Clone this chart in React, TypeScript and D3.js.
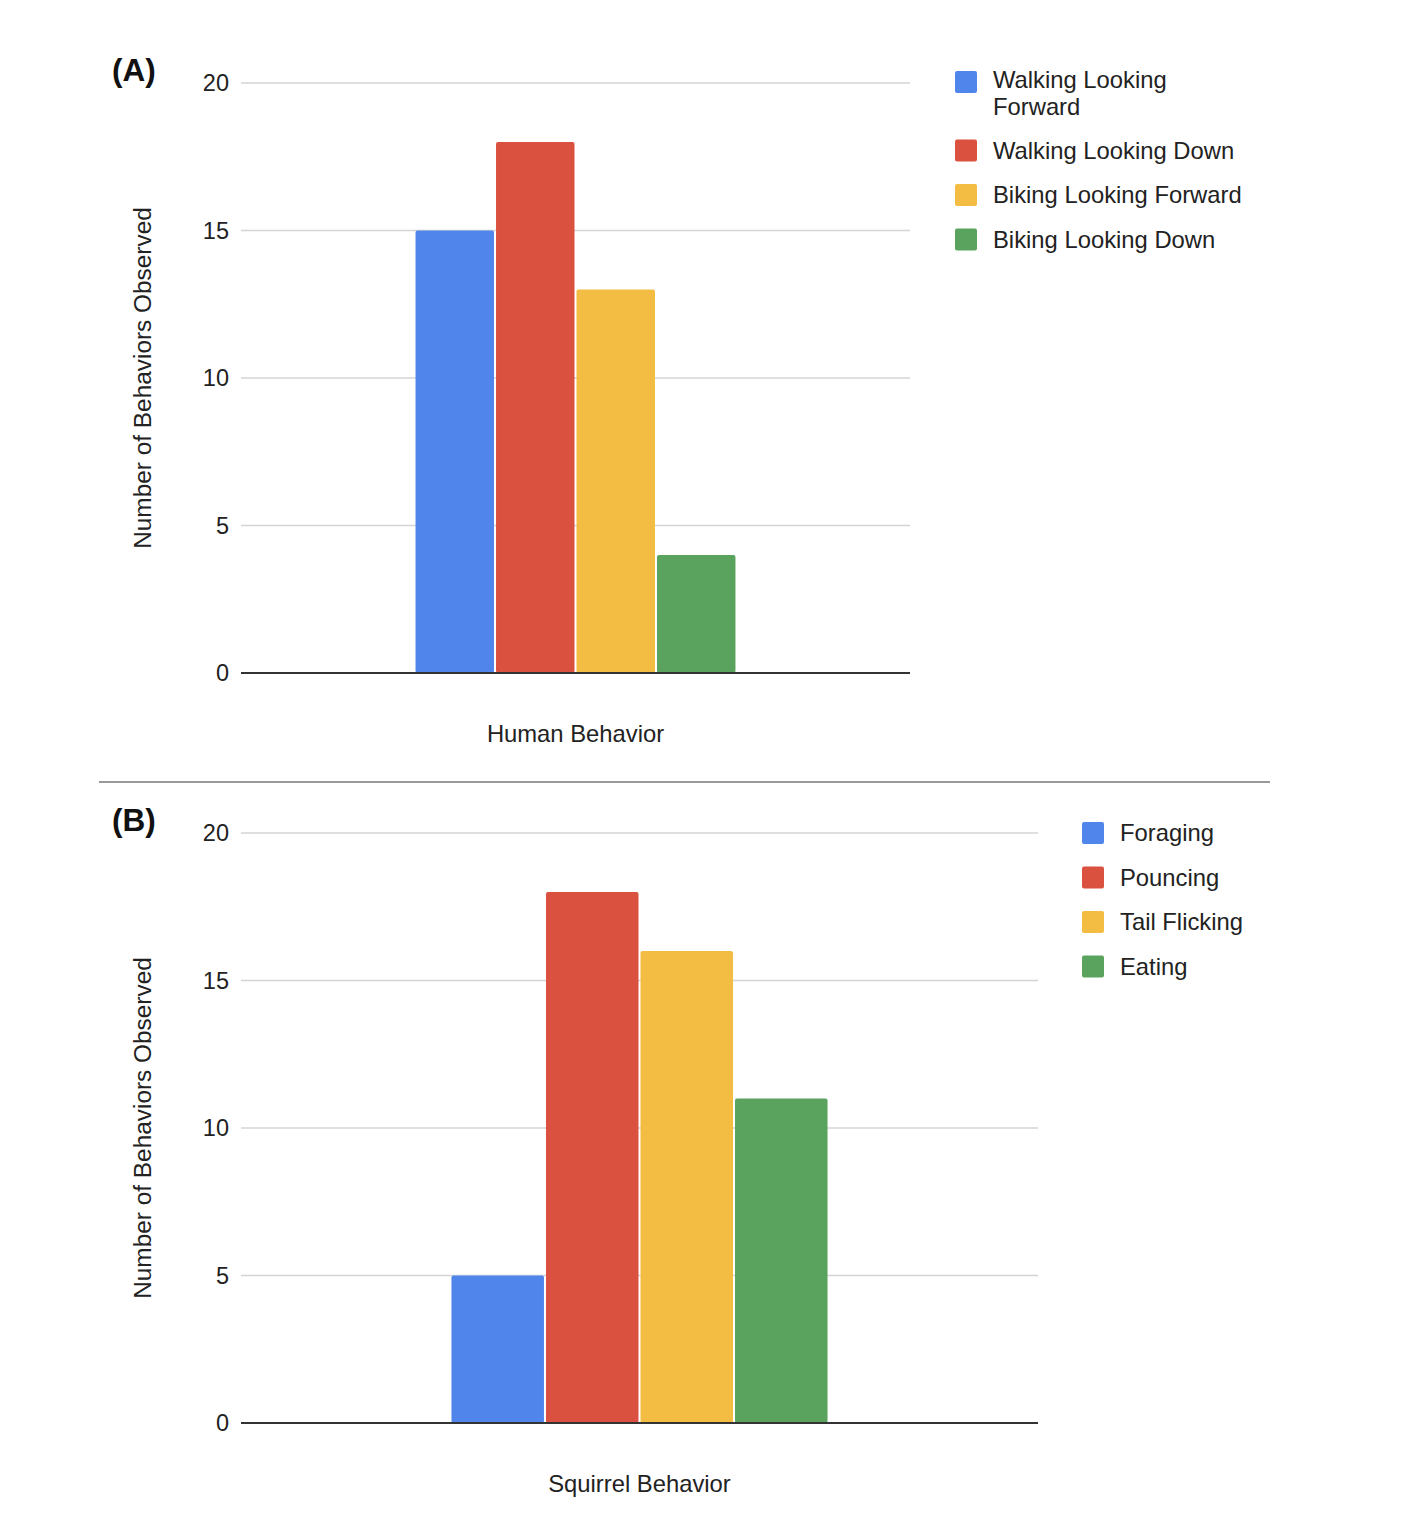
import { useEffect, useRef } from "react";
import * as d3 from "d3";

const HUMAN_CATEGORY = "Human Behavior";
const HUMAN_SERIES = [
  "Walking Looking Forward",
  "Walking Looking Down",
  "Biking Looking Forward",
  "Biking Looking Down",
];
const HUMAN_VALUES = [15, 18, 13, 4];

const SQUIRREL_CATEGORY = "Squirrel Behavior";
const SQUIRREL_SERIES = ["Foraging", "Pouncing", "Tail Flicking", "Eating"];
const SQUIRREL_VALUES = [5, 18, 16, 11];

const Y_TICKS = [0, 5, 10, 15, 20];
const Y_LABEL = "Number of Behaviors Observed";

const COLORS = ["#5086eb", "#db5140", "#f2bd42", "#59a35e"];
const FONT = "'Liberation Sans', Arial, Helvetica, sans-serif";

interface Panel {
  tag: string;
  category: string;
  series: string[];
  values: number[];
  top: number; // y of value 20
  bottom: number; // y of value 0
  left: number;
  right: number;
  outerPad: number;
  legendX: number;
  legendY: number;
  legendWrap: Record<string, string[]>;
}

const PANELS: Panel[] = [
  {
    tag: "(A)",
    category: HUMAN_CATEGORY,
    series: HUMAN_SERIES,
    values: HUMAN_VALUES,
    top: 83,
    bottom: 673,
    left: 241,
    right: 910,
    outerPad: 0.539,
    legendX: 955,
    legendY: 82,
    legendWrap: { "Walking Looking Forward": ["Walking Looking", "Forward"] },
  },
  {
    tag: "(B)",
    category: SQUIRREL_CATEGORY,
    series: SQUIRREL_SERIES,
    values: SQUIRREL_VALUES,
    top: 833,
    bottom: 1423,
    left: 241,
    right: 1038,
    outerPad: 0.554,
    legendX: 1082,
    legendY: 833,
    legendWrap: {},
  },
];

export default function App() {
  const svgRef = useRef<SVGSVGElement>(null);

  useEffect(() => {
    if (!svgRef.current) return;
    const svg = d3.select(svgRef.current);
    svg.selectAll("*").remove();

    PANELS.forEach((p) => {
      const g = svg.append("g");

      const y = d3.scaleLinear().domain([0, 20]).range([p.bottom, p.top]);
      const x0 = d3
        .scaleBand()
        .domain([p.category])
        .range([p.left, p.right])
        .paddingInner(0)
        .paddingOuter(p.outerPad);
      const x1 = d3
        .scaleBand()
        .domain(p.series)
        .range([0, x0.bandwidth()])
        .padding(0);

      // gridlines
      g.selectAll(".grid")
        .data(Y_TICKS.filter((t) => t > 0))
        .join("line")
        .attr("x1", p.left)
        .attr("x2", p.right)
        .attr("y1", (d) => y(d))
        .attr("y2", (d) => y(d))
        .attr("stroke", "#d4d4d4")
        .attr("stroke-width", 1.5);

      // tick labels
      g.selectAll(".tick")
        .data(Y_TICKS)
        .join("text")
        .attr("x", 229)
        .attr("y", (d) => y(d) + 8)
        .attr("text-anchor", "end")
        .attr("fill", "#222")
        .style("font-family", FONT)
        .style("font-size", "23.5px")
        .text((d) => String(d));

      // bars
      const gx = x0(p.category)!;
      g.selectAll(".bar")
        .data(p.values)
        .join("rect")
        .attr("x", (_, i) => gx + x1(p.series[i])! + 1)
        .attr("width", x1.bandwidth() - 2)
        .attr("y", (d) => y(d))
        .attr("height", (d) => y(0) - y(d))
        .attr("rx", 2)
        .attr("fill", (_, i) => COLORS[i]);

      // baseline
      g.append("line")
        .attr("x1", p.left)
        .attr("x2", p.right)
        .attr("y1", y(0))
        .attr("y2", y(0))
        .attr("stroke", "#333")
        .attr("stroke-width", 2);

      // x title
      g.append("text")
        .attr("x", (p.left + p.right) / 2)
        .attr("y", p.bottom + 69)
        .attr("text-anchor", "middle")
        .attr("fill", "#222")
        .style("font-family", FONT)
        .style("font-size", "23.8px")
        .text(p.category);

      // y title
      const cy = (p.top + p.bottom) / 2;
      g.append("text")
        .attr("transform", `translate(151,${cy}) rotate(-90)`)
        .attr("text-anchor", "middle")
        .attr("fill", "#222")
        .style("font-family", FONT)
        .style("font-size", "24.4px")
        .text(Y_LABEL);

      // panel tag
      g.append("text")
        .attr("x", 112)
        .attr("y", p.top - 2)
        .attr("fill", "#111")
        .style("font-family", FONT)
        .style("font-size", "31.5px")
        .style("font-weight", "700")
        .text(p.tag);

      // legend
      let ly = p.legendY;
      p.series.forEach((s, i) => {
        const lines = p.legendWrap[s] || [s];
        g.append("rect")
          .attr("x", p.legendX)
          .attr("y", ly - 11)
          .attr("width", 22)
          .attr("height", 22)
          .attr("rx", 2)
          .attr("fill", COLORS[i]);
        // wrapped labels: pull the first line up a touch so lines don't collide
        const firstY = lines.length > 1 ? ly + 5.5 : ly + 8;
        const label = g
          .append("text")
          .attr("x", p.legendX + 38)
          .attr("y", firstY)
          .attr("fill", "#222")
          .style("font-family", FONT)
          .style("font-size", "23.8px");
        lines.forEach((ln, j) => {
          label
            .append("tspan")
            .attr("x", p.legendX + 38)
            .attr("dy", j === 0 ? 0 : 27.5)
            .text(ln);
        });
        ly += 44.5 + (lines.length - 1) * 24;
      });
    });

    // divider between panels
    svg
      .append("line")
      .attr("x1", 99)
      .attr("x2", 1270)
      .attr("y1", 782)
      .attr("y2", 782)
      .attr("stroke", "#999")
      .attr("stroke-width", 2);
  }, []);

  return (
    <svg
      ref={svgRef}
      width={1412}
      height={1532}
      style={{ position: "absolute", left: 0, top: 0, background: "#fff" }}
    />
  );
}
